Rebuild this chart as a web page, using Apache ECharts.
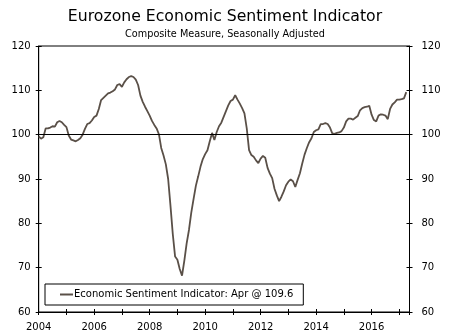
<!DOCTYPE html>
<html>
<head>
<meta charset="utf-8">
<script src="https://cdn.jsdelivr.net/npm/echarts@6/dist/echarts.min.js"></script>
<style>
html,body{margin:0;padding:0;background:#fff;}
#chart{width:450px;height:334px;}
</style>
</head>
<body>
<div id="chart"></div>
<script>
// Monthly Eurozone ESI, Jan 2004 .. Apr 2017
const startYear = 2004;
const esi2004 = [99.6, 99.1, 99.4, 101.4, 101.4, 101.6, 101.9, 101.8, 102.8, 103.1, 102.8, 102.2];
const esi2005 = [101.7, 99.8, 98.9, 98.7, 98.5, 98.8, 99.2, 100.0, 101.3, 102.4, 102.6, 103.2];
const esi2006 = [104.0, 104.3, 105.8, 107.8, 108.3, 108.8, 109.3, 109.5, 109.8, 110.2, 111.2, 111.4];
const esi2007 = [110.8, 111.8, 112.5, 113.0, 113.2, 113.0, 112.4, 111.2, 108.8, 107.4, 106.3, 105.3];
const esi2008 = [104.3, 103.1, 102.2, 101.4, 100.1, 97.0, 95.3, 93.3, 90.0, 84.0, 77.6, 72.5];
const esi2009 = [71.8, 69.7, 68.2, 71.6, 75.5, 78.5, 82.4, 85.5, 88.5, 90.6, 92.8, 94.5];
const esi2010 = [95.6, 96.5, 98.5, 100.4, 98.8, 100.6, 101.9, 102.7, 104.0, 105.3, 106.6, 107.6];
const esi2011 = [107.9, 108.9, 107.9, 107.0, 106.0, 104.8, 101.4, 96.5, 95.4, 95.0, 94.2, 93.6];
const esi2012 = [94.6, 95.2, 94.8, 92.5, 91.2, 90.2, 87.8, 86.3, 85.0, 86.0, 87.2, 88.6];
const esi2013 = [89.4, 89.9, 89.5, 88.2, 89.8, 91.3, 93.5, 95.5, 97.0, 98.3, 99.2, 100.6];
const esi2014 = [101.0, 101.2, 102.4, 102.4, 102.6, 102.4, 101.6, 100.3, 100.2, 100.4, 100.5, 100.8];
const esi2015 = [101.6, 103.0, 103.6, 103.6, 103.4, 103.8, 104.2, 105.5, 106.0, 106.2, 106.3, 106.5];
const esi2016 = [104.5, 103.3, 103.0, 104.3, 104.6, 104.5, 104.3, 103.5, 105.8, 106.8, 107.3, 107.9];
const esi2017 = [107.9, 108.0, 108.2, 109.6];
const xTickLabels = ['2004', '2006', '2008', '2010', '2012', '2014', '2016'];
const yMin = 60, yMax = 120, yStep = 10;
const refLevel = 100;
const seriesName = 'Economic Sentiment Indicator: Apr @ 109.6';

const esi = [].concat(esi2004, esi2005, esi2006, esi2007, esi2008, esi2009, esi2010,
  esi2011, esi2012, esi2013, esi2014, esi2015, esi2016, esi2017);
const data = esi.map((v, i) => [startYear + i / 12, v]);
const xMax = startYear + (esi.length + 0.4) / 12;

const font = 'DejaVu Sans';
const xFmt = v => {
  const s = String(Math.round(v));
  return (Math.abs(v - Math.round(v)) < 1e-6 && xTickLabels.indexOf(s) >= 0) ? s : '';
};
const baseX = { type: 'value', min: startYear, max: xMax, interval: 1, splitLine: { show: false } };
const baseY = { type: 'value', min: yMin, max: yMax, interval: yStep, splitLine: { show: false } };

const chart = echarts.init(document.getElementById('chart'), null, { renderer: 'canvas' });
chart.setOption({
  animation: false,
  backgroundColor: '#fff',
  title: [
    { text: 'Eurozone Economic Sentiment Indicator', left: 'center', top: 9, padding: 0,
      textStyle: { fontFamily: font, fontSize: 15.7, fontWeight: 'normal', color: '#000' } },
    { text: 'Composite Measure, Seasonally Adjusted', left: 'center', top: 29, padding: 0,
      textStyle: { fontFamily: font, fontSize: 9.7, fontWeight: 'normal', color: '#000' } }
  ],
  grid: { left: 38.7, right: 40.5, top: 46, bottom: 22, show: true, borderColor: '#000', borderWidth: 1 },
  legend: {
    left: 45, top: 284, orient: 'horizontal',
    padding: [4, 10, 4, 15],
    icon: 'rect',
    itemWidth: 13, itemHeight: 2,
    borderColor: '#000', borderWidth: 1, backgroundColor: '#fff',
    textStyle: { fontFamily: font, fontSize: 10, color: '#000', padding: [0, 0, 0, -4], lineHeight: 13 },
    data: [seriesName]
  },
  xAxis: [
    Object.assign({}, baseX, {
      position: 'bottom',
      axisLine: { show: true, lineStyle: { color: '#000', width: 1 } },
      axisTick: { show: true, inside: false, length: 3, lineStyle: { color: '#000' } },
      axisLabel: { show: true, formatter: xFmt, margin: 10, fontFamily: font, fontSize: 10, color: '#000', showMaxLabel: true, showMinLabel: true }
    }),
    Object.assign({}, baseX, {
      position: 'bottom',
      axisLine: { show: false },
      axisTick: { show: true, inside: true, length: 3, lineStyle: { color: '#000' } },
      axisLabel: { show: false }
    })
  ],
  yAxis: [
    Object.assign({}, baseY, {
      position: 'left',
      axisLine: { show: true, lineStyle: { color: '#000', width: 1 } },
      axisTick: { show: true, inside: false, length: 3, lineStyle: { color: '#000' } },
      axisLabel: { show: true, margin: 8, fontFamily: font, fontSize: 10, color: '#000' }
    }),
    Object.assign({}, baseY, {
      position: 'left',
      axisLine: { show: false },
      axisTick: { show: true, inside: true, length: 3, lineStyle: { color: '#000' } },
      axisLabel: { show: false }
    }),
    Object.assign({}, baseY, {
      position: 'right',
      axisLine: { show: true, lineStyle: { color: '#000', width: 1 } },
      axisTick: { show: true, inside: false, length: 3, lineStyle: { color: '#000' } },
      axisLabel: { show: true, margin: 12, fontFamily: font, fontSize: 10, color: '#000' }
    }),
    Object.assign({}, baseY, {
      position: 'right',
      axisLine: { show: false },
      axisTick: { show: true, inside: true, length: 3, lineStyle: { color: '#000' } },
      axisLabel: { show: false }
    })
  ],
  series: [{
    name: seriesName,
    type: 'line',
    xAxisIndex: 0, yAxisIndex: 0,
    data: data,
    symbol: 'none', showSymbol: false,
    lineStyle: { color: '#5a5048', width: 1.8 },
    itemStyle: { color: '#5a5048' },
    markLine: {
      silent: true, symbol: 'none', label: { show: false },
      lineStyle: { color: '#000', width: 1, type: 'solid' },
      data: [{ yAxis: refLevel }]
    },
    z: 3
  }]
});
</script>
</body>
</html>
